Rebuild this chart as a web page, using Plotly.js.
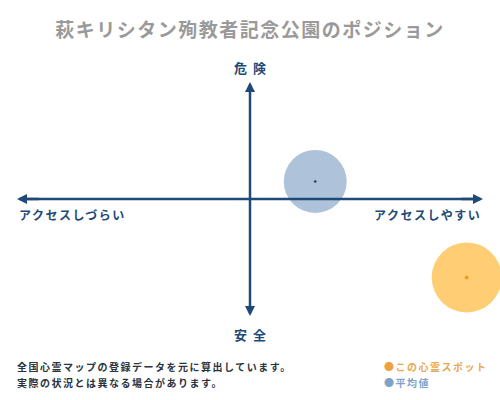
<!DOCTYPE html>
<html>
<head>
<meta charset="utf-8">
<script src="https://cdn.plot.ly/plotly-3.0.1.min.js"></script>
<style>
  html, body { margin: 0; padding: 0; background: #fff; }
  #chart { width: 500px; height: 400px; }
  .annotation-text, .gtitle { letter-spacing: 1.5px; }
</style>
</head>
<body>
<div id="chart"></div>
<script>
// positions on the map: access (x, -1..1) and danger (y, -1..1)
const spotNames = ['平均値', 'この心霊スポット'];
const accessVals = [0.28, 0.93];
const dangerVals = [0.15, -0.67];
const bubbleColors = ['rgba(160,184,212,0.85)', 'rgba(255,200,100,0.9)'];
const dotColors = ['#1d3f66', '#f0a020'];
const bubbleSizes = [63, 70];

const axisLabels = { top: '危 険', bottom: '安 全', left: 'アクセスしづらい', right: 'アクセスしやすい' };
const noteLines = ['全国心霊マップの登録データを元に算出しています。', '実際の状況とは異なる場合があります。'];

const navy = '#1f4a78';
const font = '"Noto Sans CJK JP", "Noto Sans", sans-serif';

const traces = [];
for (let i = 0; i < spotNames.length; ++i) {
    traces.push({
        x: [accessVals[i]], y: [dangerVals[i]],
        mode: 'markers', name: spotNames[i], cliponaxis: false, hoverinfo: 'skip',
        marker: { size: bubbleSizes[i], color: bubbleColors[i], line: { width: 0 } }
    });
    traces.push({
        x: [accessVals[i]], y: [dangerVals[i]],
        mode: 'markers', cliponaxis: false, hoverinfo: 'skip', showlegend: false,
        marker: { size: i == 0 ? 2.5 : 4, color: dotColors[i] }
    });
}

function arrow(x, y) {
    return {
        x: x, y: y, ax: x * 0.9, ay: y * 0.9, xref: 'x', yref: 'y', axref: 'x', ayref: 'y',
        text: '', showarrow: true, arrowhead: 2, arrowsize: 0.8, arrowwidth: 2.5, arrowcolor: navy
    };
}
function label(txt, xp, yp, anchor, opts) {
    return Object.assign({
        text: txt, x: xp, y: yp, xref: 'paper', yref: 'paper', showarrow: false,
        xanchor: anchor, yanchor: 'middle',
        font: { family: font, size: 12, color: navy, weight: 'bold' }
    }, opts || {});
}

const noteFont = { family: font, size: 10, color: '#2a3340', weight: 'bold' };
const annotations = [
    arrow(1, 0), arrow(-1, 0), arrow(0, 1), arrow(0, -1),
    label(axisLabels.top, 0.5, 1.064, 'center', { font: { family: font, size: 13, color: navy, weight: 'bold' } }),
    label(axisLabels.bottom, 0.5, -0.081, 'center', { font: { family: font, size: 13, color: navy, weight: 'bold' } }),
    label(axisLabels.left, 0, 0.432, 'left'),
    label(axisLabels.right, 1, 0.432, 'right'),
    label(noteLines[0], -0.004, -0.214, 'left', { font: noteFont }),
    label(noteLines[1], -0.004, -0.286, 'left', { font: noteFont }),
    label('<span style="color:#f0a040">●</span>この心霊スポット', 0.783, -0.214, 'left', { font: { family: font, size: 10, color: '#e8a850', weight: 'bold' } }),
    label('<span style="color:#7fa3c8">●</span>平均値', 0.783, -0.286, 'left', { font: { family: font, size: 10, color: '#7fa3c8', weight: 'bold' } })
];

const shapes = [
    { type: 'line', xref: 'x', yref: 'y', x0: -0.97, x1: 0.97, y0: 0, y1: 0, line: { color: navy, width: 2.5 }, layer: 'above' },
    { type: 'line', xref: 'x', yref: 'y', x0: 0, x1: 0, y0: -0.97, y1: 0.97, line: { color: navy, width: 2.5 }, layer: 'above' }
];

const layout = {
    width: 500, height: 400,
    margin: { l: 17, r: 17, t: 82, b: 84 },
    paper_bgcolor: '#fff', plot_bgcolor: '#fff',
    showlegend: false,
    title: {
        text: '萩キリシタン殉教者記念公園のポジション',
        x: 0.5, xanchor: 'center', y: 0.925, yanchor: 'middle',
        font: { family: font, size: 19, color: '#9a9a9a', weight: 'bold' }
    },
    xaxis: { range: [-1, 1], visible: false, fixedrange: true },
    yaxis: { range: [-1, 1], visible: false, fixedrange: true },
    shapes: shapes,
    annotations: annotations
};

Plotly.newPlot('chart', traces, layout, { staticPlot: true });
</script>
</body>
</html>
